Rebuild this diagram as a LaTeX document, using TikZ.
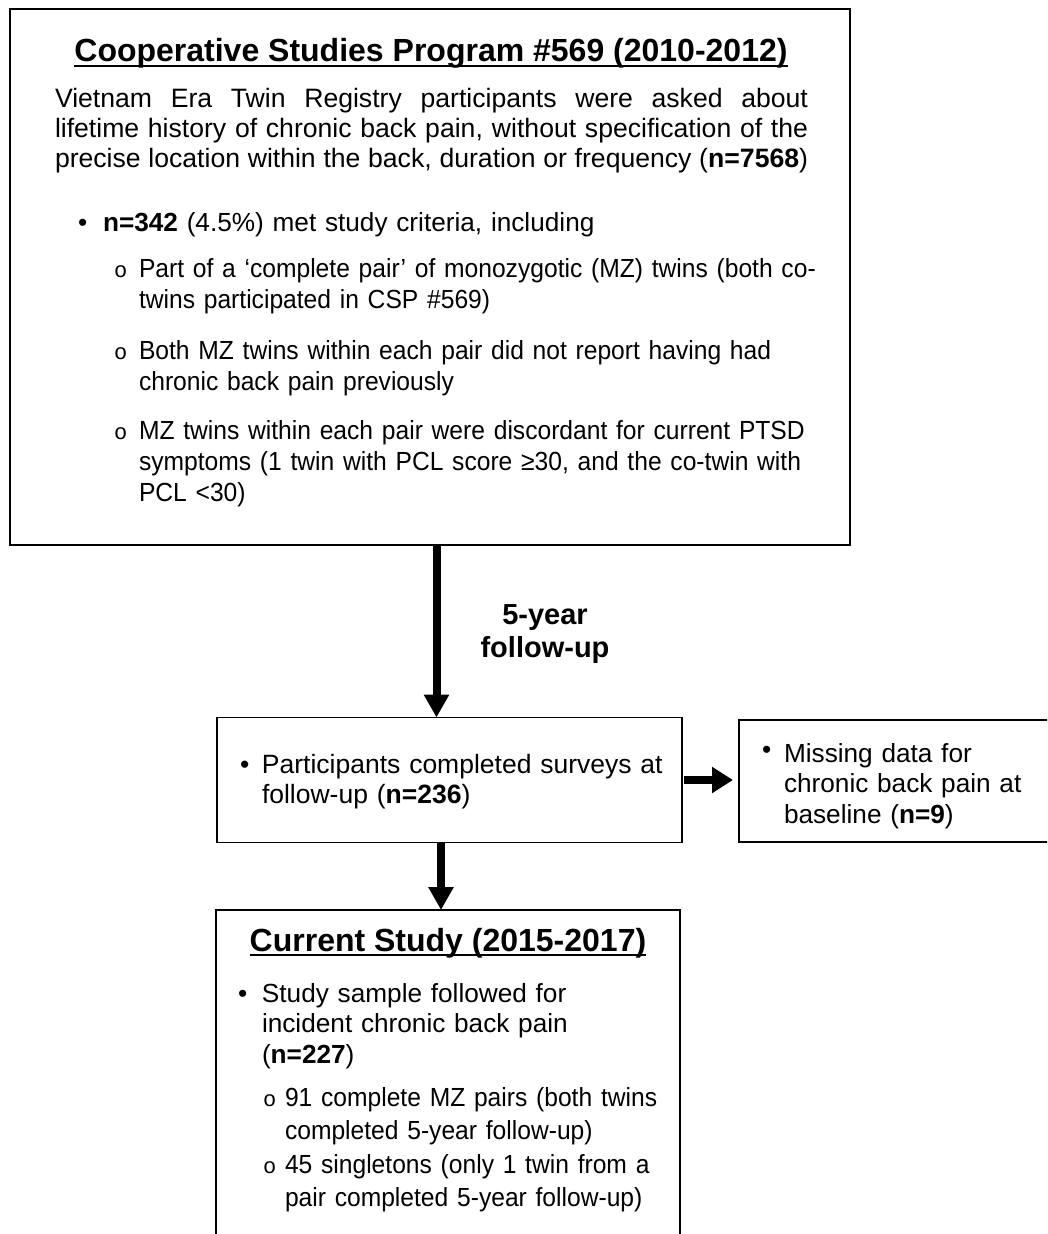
\documentclass[tikz,border=0pt]{standalone}
\usepackage{fontspec}
\setmainfont{Liberation Sans}
\newfontfamily\monofont{Liberation Mono}
\newfontfamily\condfont[FakeStretch=0.94]{Liberation Sans}
\usetikzlibrary{arrows.meta}
\newcommand{\myul}[2][6pt]{\setbox0=\hbox{#2}\leavevmode\rlap{\rule[-#1]{\wd0}{1.6pt}}\box0}
\newcommand{\bul}[1]{\makebox[#1][l]{•}}
\newcommand{\rbul}[1]{\makebox[#1][l]{\raisebox{4pt}{•}}}
\newcommand{\sbul}[1]{\makebox[#1][l]{\hspace*{1pt}\fontsize{22}{22}\monofont o}}
\begin{document}
\begin{tikzpicture}[x=1pt,y=-1pt,
  box/.style={draw, line width=1.6pt, inner sep=0pt, outer sep=0pt},
  txt/.style={inner sep=0pt, outer sep=0pt, anchor=base west, align=left, text width=780pt,
    font=\fontsize{26.2}{30.7}\selectfont},
  subtxt/.style={txt, font=\fontsize{26.2}{31.3}\selectfont\condfont},
  ttl/.style={inner sep=0pt, outer sep=0pt, anchor=base, font=\fontsize{32}{36}\selectfont\bfseries},
  bigarrow/.style={line width=8pt, -{Triangle[width=24pt,length=23pt]}}]
\useasboundingbox (0,0) rectangle (1047,1234);
\clip (0,0) rectangle (1047,1234);

% boxes
\node[box, line width=2.2pt, minimum width=840pt, minimum height=536pt] (top) at (430,277) {};
\node[box, minimum width=465pt, minimum height=125pt] (mid) at (449.5,780) {};
\node[box, minimum width=332pt, minimum height=122pt] (rgt) at (905,781) {};
\node[box, minimum width=464pt, minimum height=340pt] (bot) at (448,1080) {};

% top box text
\node[txt, align=justify, text width=753pt, font=\fontsize{26.6}{30.4}\selectfont] (t1) at (55,107) {\parfillskip=0pt
Vietnam Era Twin Registry participants were asked about\linebreak
lifetime history of chronic back pain, without specification of the\linebreak
precise location within the back, duration or frequency (\textbf{n=7568})\par};
\node[ttl] (t0) at (431,61) {\myul{Cooperative Studies Program \#569 (2010-2012)}};
\node[txt] (t2) at (78,231) {\bul{25pt}\textbf{n=342} (4.5\%) met study criteria, including};
\node[subtxt] (t3) at (113,277) {\sbul{26pt}Part of a ‘complete pair’ of monozygotic (MZ) twins (both co-\\
\hspace*{26pt}twins participated in CSP \#569)};
\node[subtxt] (t4) at (113,359) {\sbul{26pt}Both MZ twins within each pair did not report having had\\
\hspace*{26pt}chronic back pain previously};
\node[subtxt] (t5) at (113,439) {\sbul{26pt}MZ twins within each pair were discordant for current PTSD\\
\hspace*{26pt}symptoms (1 twin with PCL score ≥30, and the co-twin with\\
\hspace*{26pt}PCL <30)};

% follow-up label
\node[inner sep=0pt, outer sep=0pt, anchor=base, align=center, text width=220pt,
  font=\fontsize{29}{33}\selectfont\bfseries] (fu) at (545,624) {5-year\\follow-up};

% middle box text
\node[txt, font=\fontsize{26.5}{30.7}\selectfont] (m1) at (240,773) {\bul{22pt}Participants completed surveys at\\
\hspace*{22pt}follow-up (\textbf{n=236})};

% right box text
\node[txt] (r1) at (762,762) {\rbul{22pt}Missing data for\\
\hspace*{22pt}chronic back pain at\\
\hspace*{22pt}baseline (\textbf{n=9})};

% bottom box text
\node[ttl] (b0) at (448,951) {\myul[5pt]{Current Study (2015-2017)}};
\node[txt] (b1) at (238,1002) {\bul{24pt}Study sample followed for\\
\hspace*{24pt}incident chronic back pain\\
\hspace*{24pt}(\textbf{n=227})};
\node[subtxt, font=\fontsize{26.2}{33}\selectfont\condfont] (b2) at (262,1106) {\sbul{23pt}91 complete MZ pairs (both twins\\
\hspace*{23pt}completed 5-year follow-up)};
\node[subtxt, font=\fontsize{26.2}{33}\selectfont\condfont] (b3) at (262,1173) {\sbul{23pt}45 singletons (only 1 twin from a\\
\hspace*{23pt}pair completed 5-year follow-up)};

% arrows
\draw[bigarrow] ([xshift=6.5pt]top.south) -- ([xshift=6.5pt]top.south |- mid.north);
\draw[bigarrow] ([xshift=-8.5pt]mid.south) -- ([xshift=-8.5pt]mid.south |- bot.north);
\draw[line width=8pt, -{Triangle[width=25pt,length=21pt]}, shorten <=2pt, shorten >=6pt]
  (mid.east) -- (mid.east -| rgt.west);
\end{tikzpicture}
\end{document}
